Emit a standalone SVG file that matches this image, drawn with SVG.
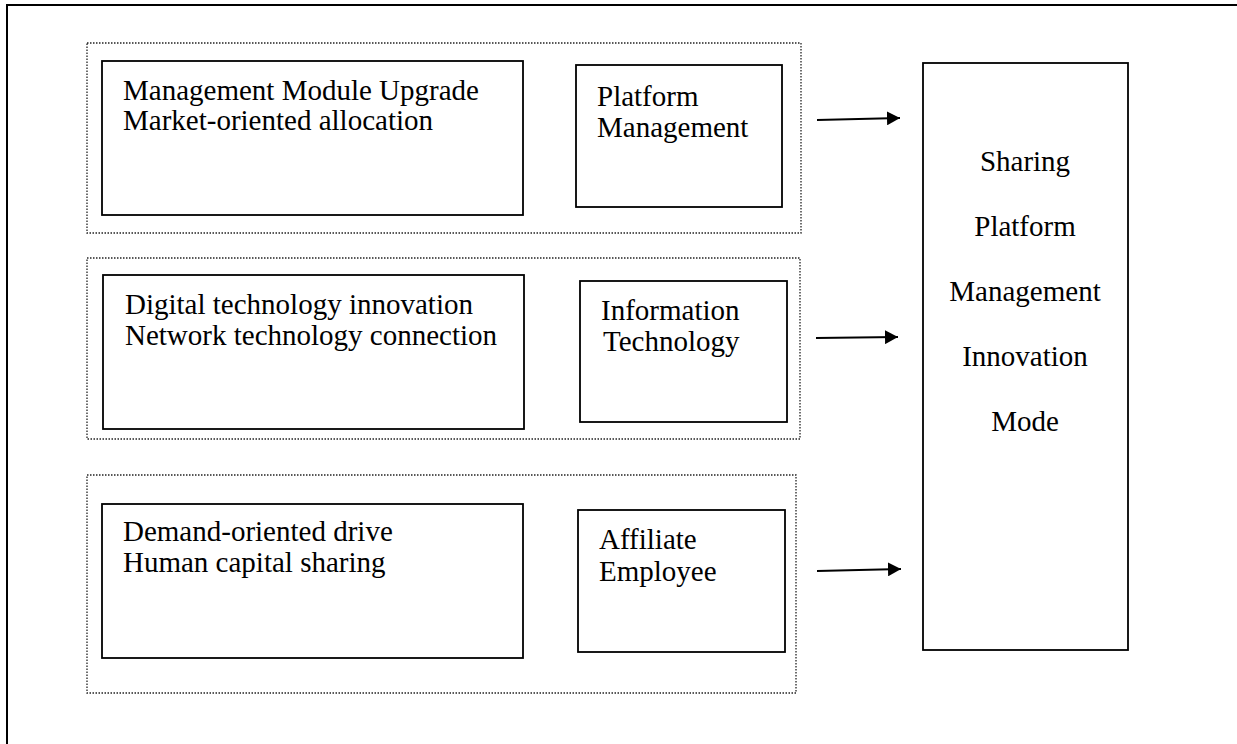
<svg xmlns="http://www.w3.org/2000/svg" width="1237" height="744" viewBox="0 0 1237 744">
  <defs>
    <marker id="arrowhead" markerWidth="14" markerHeight="14" refX="13" refY="7" orient="auto" markerUnits="userSpaceOnUse">
      <path d="M0,0 L13,7 L0,14 Z" fill="#000"/>
    </marker>
    <style>
      .frame { fill: none; stroke: #000; stroke-width: 2; }
      .group { fill: none; stroke: #222; stroke-width: 1.3; stroke-dasharray: 1.5 1.5; }
      .box { fill: #fff; stroke: #000; stroke-width: 1.8; }
      .label { font-family: "Liberation Serif", "Times New Roman", serif; font-size: 29px; fill: #000; }
      .mid { text-anchor: middle; }
      .link { stroke: #000; stroke-width: 2; fill: none; marker-end: url(#arrowhead); }
    </style>
  </defs>

  <rect width="1237" height="744" fill="#fff"/>

  <!-- page frame: top and left edges -->
  <path class="frame" d="M7,744 L7,5 L1237,5"/>

  <!-- dotted grouping frames -->
  <g id="groups">
    <rect class="group" x="87" y="43" width="714" height="190"/>
    <rect class="group" x="87" y="258" width="713" height="181"/>
    <rect class="group" x="87" y="475" width="709" height="218"/>
  </g>

  <!-- row 1 -->
  <g id="management-module">
    <rect class="box" x="102" y="61" width="421" height="154"/>
    <text class="label" x="123" y="100">Management Module Upgrade</text>
    <text class="label" x="123" y="130">Market-oriented allocation</text>
  </g>
  <g id="platform-management">
    <rect class="box" x="576" y="65" width="206" height="142"/>
    <text class="label" x="597" y="106">Platform</text>
    <text class="label" x="597" y="137">Management</text>
  </g>

  <!-- row 2 -->
  <g id="digital-technology">
    <rect class="box" x="103" y="275" width="421" height="154"/>
    <text class="label" x="125" y="314">Digital technology innovation</text>
    <text class="label" x="125" y="345">Network technology connection</text>
  </g>
  <g id="information-technology">
    <rect class="box" x="580" y="281" width="207" height="141"/>
    <text class="label" x="601" y="320">Information</text>
    <text class="label" x="603" y="351">Technology</text>
  </g>

  <!-- row 3 -->
  <g id="demand-oriented">
    <rect class="box" x="102" y="504" width="421" height="154"/>
    <text class="label" x="123" y="541">Demand-oriented drive</text>
    <text class="label" x="123" y="572">Human capital sharing</text>
  </g>
  <g id="affiliate-employee">
    <rect class="box" x="578" y="510" width="207" height="142"/>
    <text class="label" x="599" y="549">Affiliate</text>
    <text class="label" x="599" y="581">Employee</text>
  </g>

  <!-- target -->
  <g id="sharing-platform">
    <rect class="box" x="923" y="63" width="205" height="587"/>
    <text class="label mid" x="1025" y="171">Sharing</text>
    <text class="label mid" x="1025" y="236">Platform</text>
    <text class="label mid" x="1025" y="301">Management</text>
    <text class="label mid" x="1025" y="366">Innovation</text>
    <text class="label mid" x="1025" y="431">Mode</text>
  </g>

  <!-- connectors -->
  <g id="connectors">
    <line class="link" x1="817" y1="120" x2="900" y2="118"/>
    <line class="link" x1="816" y1="338" x2="898" y2="337"/>
    <line class="link" x1="817" y1="571" x2="901" y2="569"/>
  </g>
</svg>
